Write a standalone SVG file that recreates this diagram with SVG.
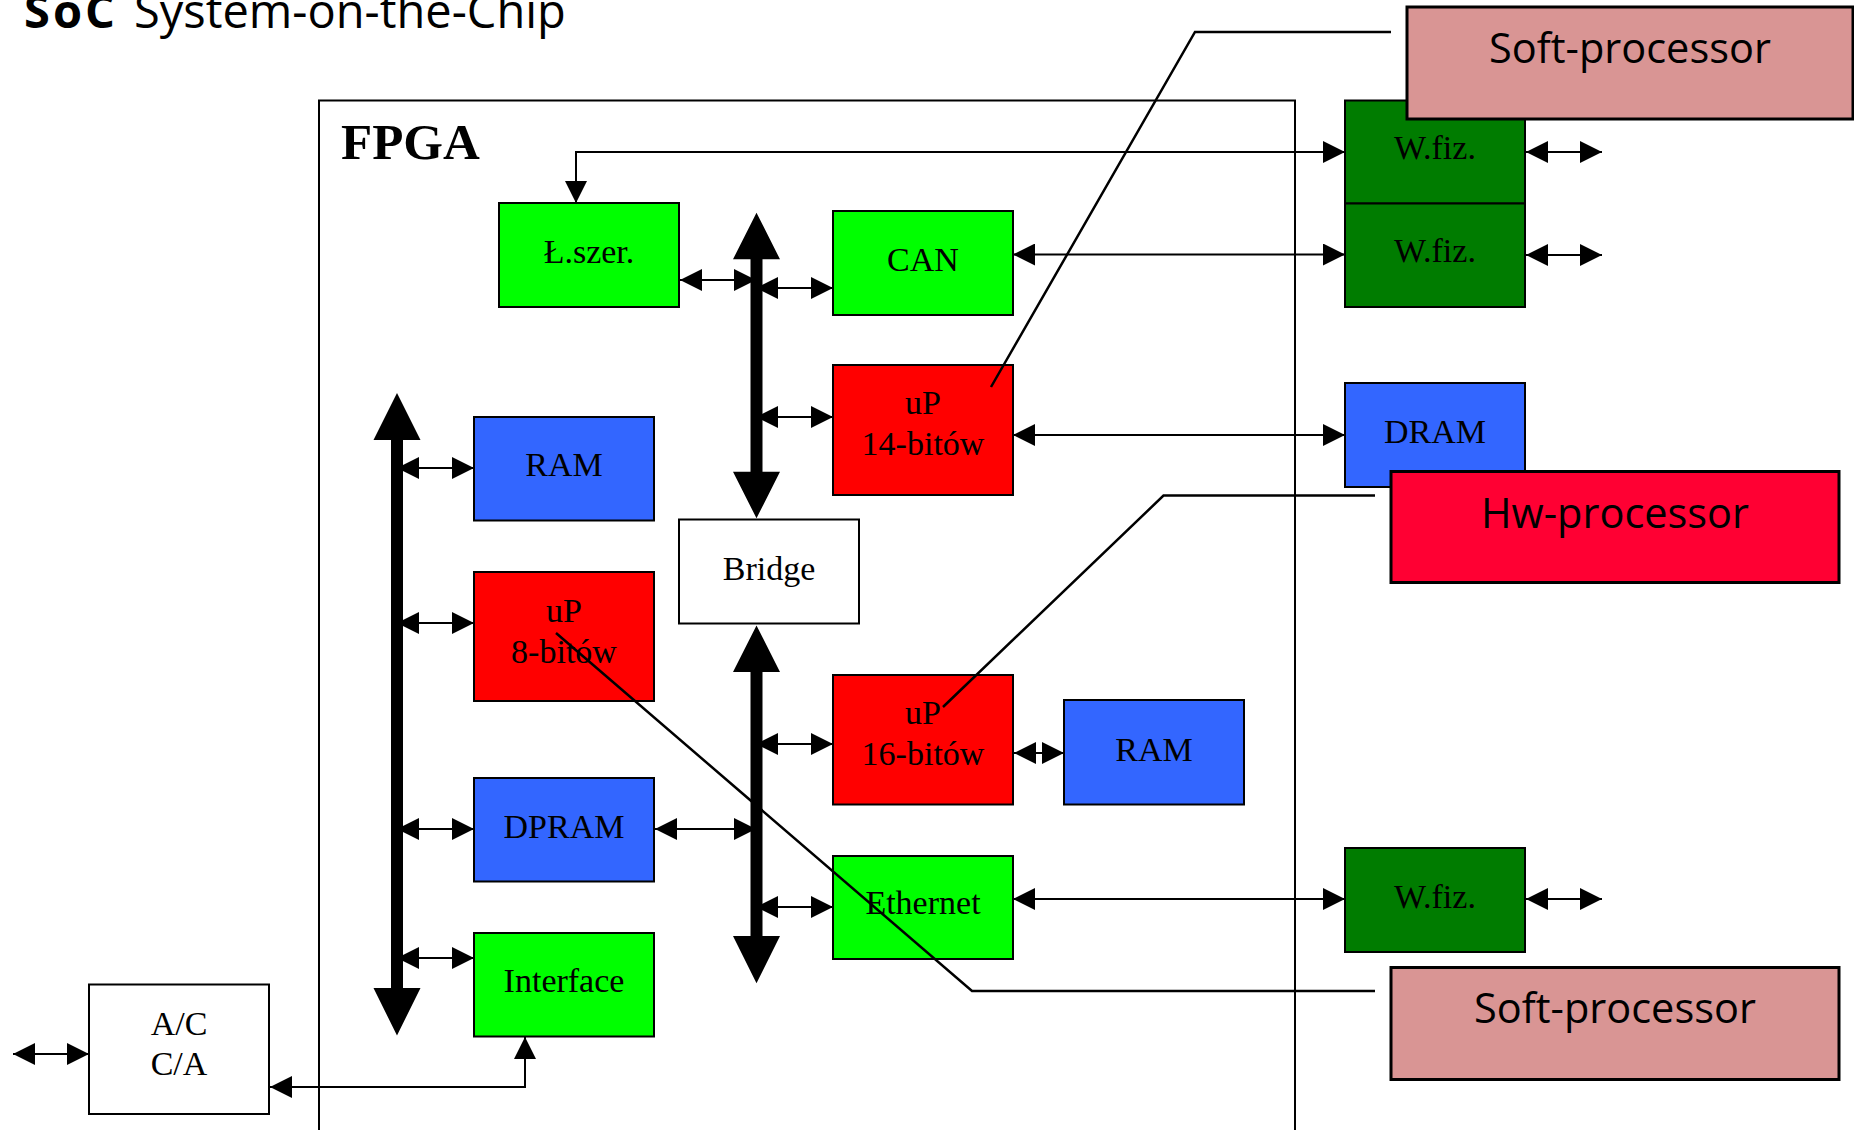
<svg xmlns="http://www.w3.org/2000/svg" width="1854" height="1130" viewBox="0 0 1854 1130">
  <style>
    .box { stroke: #000; stroke-width: 2; }
    .lbl { font-family: "Liberation Serif", "Times New Roman", serif; font-size: 34px; fill: #000; text-anchor: middle; }
    .call { stroke: #000; stroke-width: 3; }
    .calltxt { font-family: "Open Sans", "Noto Sans", sans-serif; font-size: 41.5px; fill: #000; text-anchor: middle; }
    .wire { fill: none; stroke: #000; stroke-width: 2; }
    .dbl { marker-start: url(#head); marker-end: url(#head); }
    .lead { fill: none; stroke: #000; stroke-width: 2.5; }
    .green { fill: #00ff00; }
    .blue { fill: #3366ff; }
    .red { fill: #ff0000; }
    .dkgreen { fill: #007c00; }
    .white { fill: #ffffff; }
  </style>
  <defs>
    <marker id="head" markerUnits="userSpaceOnUse" markerWidth="22" markerHeight="22" refX="22" refY="11" orient="auto-start-reverse">
      <path d="M0,0 L22,11 L0,22 Z" fill="#000"/>
    </marker>
  </defs>

  <rect width="1854" height="1130" fill="#ffffff"/>

  <!-- title -->
  <text x="24" y="28" font-family="'Open Sans', 'Noto Sans', sans-serif" font-size="47" fill="#000"><tspan font-weight="bold" letter-spacing="3">SoC</tspan><tspan x="134">System-on-the-Chip</tspan></text>

  <!-- FPGA frame -->
  <g id="fpga">
    <rect x="319" y="100.5" width="976" height="1050" fill="none" stroke="#000" stroke-width="2"/>
    <text x="341" y="159" font-family="'Liberation Serif', 'Times New Roman', serif" font-size="51" font-weight="bold" fill="#000">FPGA</text>
  </g>

  <!-- thick buses -->
  <g id="buses" fill="#000">
    <path id="bus-left" d="M397,393 L420.5,440 L403,440 L403,988 L420.5,988 L397,1035.5 L373.5,988 L391,988 L391,440 L373.5,440 Z"/>
    <path id="bus-upper" d="M756.5,212.7 L780,259.3 L762.5,259.3 L762.5,471.7 L780,471.7 L756.5,518.3 L733,471.7 L750.5,471.7 L750.5,259.3 L733,259.3 Z"/>
    <path id="bus-lower" d="M756.5,625.4 L780,672 L762.5,672 L762.5,936 L780,936 L756.5,983.3 L733,936 L750.5,936 L750.5,672 L733,672 Z"/>
  </g>

  <!-- nodes -->
  <g id="lszer"><rect class="box green" x="499" y="203" width="180" height="104"/><text class="lbl" x="589" y="263">Ł.szer.</text></g>
  <g id="can"><rect class="box green" x="833" y="211" width="180" height="104"/><text class="lbl" x="923" y="271">CAN</text></g>
  <g id="up14"><rect class="box red" x="833" y="365" width="180" height="130"/><text class="lbl" x="923" y="414">uP</text><text class="lbl" x="923" y="455">14-bitów</text></g>
  <g id="ram1"><rect class="box blue" x="474" y="417" width="180" height="103.5"/><text class="lbl" x="564" y="476">RAM</text></g>
  <g id="up8"><rect class="box red" x="474" y="572" width="180" height="129"/><text class="lbl" x="564" y="622">uP</text><text class="lbl" x="564" y="663">8-bitów</text></g>
  <g id="bridge"><rect class="box white" x="679" y="519.5" width="180" height="104"/><text class="lbl" x="769" y="580">Bridge</text></g>
  <g id="dpram"><rect class="box blue" x="474" y="778" width="180" height="103.5"/><text class="lbl" x="564" y="838">DPRAM</text></g>
  <g id="interface"><rect class="box green" x="474" y="933" width="180" height="103.5"/><text class="lbl" x="564" y="992">Interface</text></g>
  <g id="up16"><rect class="box red" x="833" y="675" width="180" height="129.5"/><text class="lbl" x="923" y="724">uP</text><text class="lbl" x="923" y="764.5">16-bitów</text></g>
  <g id="ram2"><rect class="box blue" x="1064" y="700" width="180" height="104.5"/><text class="lbl" x="1154" y="761">RAM</text></g>
  <g id="ethernet"><rect class="box green" x="833" y="856" width="180" height="103"/><text class="lbl" x="923" y="914">Ethernet</text></g>
  <g id="wfiz1"><rect class="box dkgreen" x="1345" y="100.5" width="180" height="103"/><text class="lbl" x="1435" y="159">W.fiz.</text></g>
  <g id="wfiz2"><rect class="box dkgreen" x="1345" y="203.5" width="180" height="103.5"/><text class="lbl" x="1435" y="262">W.fiz.</text></g>
  <g id="dram"><rect class="box blue" x="1345" y="383" width="180" height="104"/><text class="lbl" x="1435" y="443">DRAM</text></g>
  <g id="wfiz3"><rect class="box dkgreen" x="1345" y="848" width="180" height="104"/><text class="lbl" x="1435" y="908">W.fiz.</text></g>
  <g id="ac"><rect class="box white" x="89" y="984.5" width="180" height="129.5"/><text class="lbl" x="179" y="1035">A/C</text><text class="lbl" x="179" y="1075">C/A</text></g>

  <!-- connectors -->
  <g id="connectors">
    <path class="wire dbl" d="M576,203 L576,152 L1345,152"/>
    <path class="wire dbl" d="M680,280 L756,280"/>
    <path class="wire dbl" d="M756,288 L833,288"/>
    <path class="wire dbl" d="M756,417 L833,417"/>
    <path class="wire dbl" d="M1013,254.5 L1345,254.5"/>
    <path class="wire dbl" d="M1013,435 L1345,435"/>
    <path class="wire dbl" d="M1526,152 L1602,152"/>
    <path class="wire dbl" d="M1526,255 L1602,255"/>
    <path class="wire dbl" d="M397,468 L474,468"/>
    <path class="wire dbl" d="M397,623 L474,623"/>
    <path class="wire dbl" d="M397,829 L474,829"/>
    <path class="wire dbl" d="M397,958 L474,958"/>
    <path class="wire dbl" d="M655,829 L756,829"/>
    <path class="wire dbl" d="M756,744 L833,744"/>
    <path class="wire dbl" d="M756,907 L833,907"/>
    <path class="wire dbl" d="M1014,753 L1064,753"/>
    <path class="wire dbl" d="M1013,899 L1345,899"/>
    <path class="wire dbl" d="M1526,899 L1602,899"/>
    <path class="wire dbl" d="M525,1037 L525,1087 L270,1087"/>
    <path class="wire dbl" d="M13,1054 L89,1054"/>
  </g>

  <!-- callouts -->
  <g id="callout-soft-top">
    <path class="lead" d="M1391,32 L1195,32 L991,387"/>
    <rect class="call" fill="#d99594" x="1407" y="7" width="446" height="112"/>
    <text class="calltxt" x="1630" y="63">Soft-processor</text>
  </g>
  <g id="callout-hw">
    <path class="lead" d="M1375,495.6 L1163.5,495.6 L943,707"/>
    <rect class="call" fill="#ff0033" x="1391" y="471.5" width="448" height="111"/>
    <text class="calltxt" x="1615" y="527.5">Hw-processor</text>
  </g>
  <g id="callout-soft-bottom">
    <path class="lead" d="M1375,991 L972,991 L556,633"/>
    <rect class="call" fill="#d99594" x="1391" y="967.5" width="448" height="112"/>
    <text class="calltxt" x="1615" y="1023">Soft-processor</text>
  </g>
</svg>
